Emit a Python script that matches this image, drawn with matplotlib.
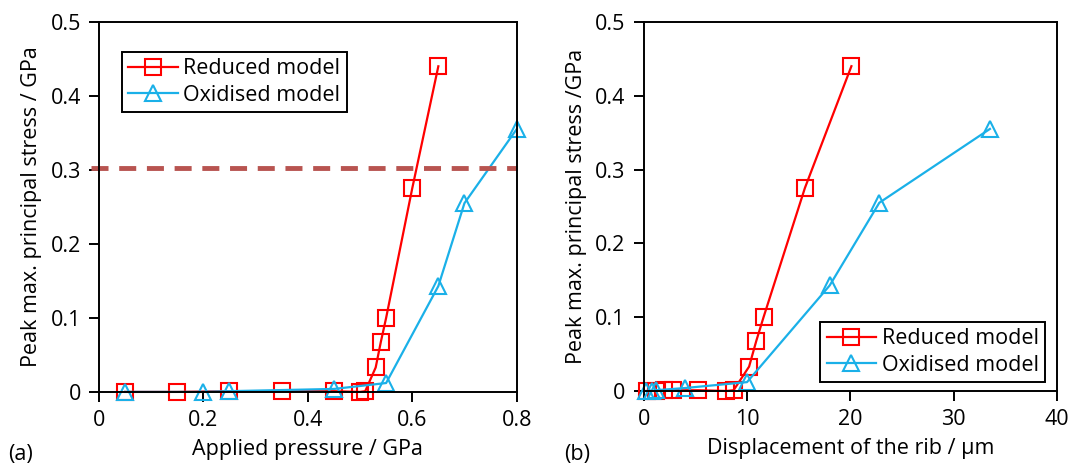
import matplotlib.pyplot as plt

plt.rcParams['font.family'] = ['Open Sans', 'DejaVu Sans']

# (a) stress vs applied pressure
red_p = [0.05, 0.15, 0.25, 0.35, 0.45, 0.50, 0.51, 0.53, 0.54, 0.55, 0.60, 0.65]
red_s = [0.000, 0.000, 0.001, 0.001, 0.001, 0.000, 0.001, 0.033, 0.068, 0.100, 0.275, 0.440]
oxi_p = [0.05, 0.20, 0.25, 0.45, 0.55, 0.65, 0.70, 0.80]
oxi_s = [0.000, 0.000, 0.001, 0.004, 0.012, 0.143, 0.255, 0.355]
threshold = 0.303

# (b) stress vs rib displacement (um)
red_d = [0.3, 1.2, 2.0, 2.8, 5.3, 8.0, 8.7, 10.2, 10.9, 11.6, 15.6, 20.1]
oxi_d = [0.2, 0.8, 1.2, 4.0, 10.0, 18.0, 22.8, 33.5]

RED = '#ff0000'
BLUE = '#1ab0e8'
FS = 15.5

fig = plt.figure(figsize=(10.71, 4.66), dpi=100)
ax1 = fig.add_axes([0.0924, 0.159, 0.390, 0.794])
ax2 = fig.add_axes([0.601, 0.161, 0.386, 0.792])

mk = dict(markersize=11.5, markerfacecolor='none', markeredgewidth=1.5, linewidth=1.6)


def style(ax, xmax, xticks):
    ax.set_xlim(0, xmax)
    ax.set_ylim(0, 0.5)
    ax.set_xticks(xticks)
    ax.set_yticks([0, 0.1, 0.2, 0.3, 0.4, 0.5])
    ax.set_yticklabels(['0', '0.1', '0.2', '0.3', '0.4', '0.5'])
    ax.tick_params(direction='out', length=7, width=1.4, labelsize=FS, colors='black', pad=6)
    for s in ax.spines.values():
        s.set_linewidth(1.4)


def legend(ax, **kw):
    leg = ax.legend(fontsize=FS, frameon=True, fancybox=False, edgecolor='black',
                    framealpha=1, handlelength=2.3, borderpad=0.3, labelspacing=0.25,
                    handletextpad=0.25, borderaxespad=0, **kw)
    leg.get_frame().set_linewidth(1.4)


ax1.plot(red_p, red_s, color=RED, marker='s', label='Reduced model', clip_on=False, **mk)
ax1.plot(oxi_p, oxi_s, color=BLUE, marker='^', label='Oxidised model', clip_on=False, **mk)
ax1.axhline(threshold, color='#b85450', linestyle=(0, (3.5, 2.2)), linewidth=3.5,
            xmin=-0.02, xmax=1.0, clip_on=False)
style(ax1, 0.8, [0, 0.2, 0.4, 0.6, 0.8])
ax1.set_xticklabels(['0', '0.2', '0.4', '0.6', '0.8'])
ax1.set_xlabel('Applied pressure / GPa', fontsize=FS, labelpad=6)
ax1.set_ylabel('Peak max. principal stress / GPa', fontsize=FS, labelpad=6)
legend(ax1, loc='upper left', bbox_to_anchor=(0.055, 0.919))

ax2.plot(red_d, red_s, color=RED, marker='s', label='Reduced model', clip_on=False, **mk)
ax2.plot(oxi_d, oxi_s, color=BLUE, marker='^', label='Oxidised model', clip_on=False, **mk)
style(ax2, 40, [0, 10, 20, 30, 40])
ax2.set_xlabel('Displacement of the rib / μm', fontsize=FS, labelpad=6)
ax2.set_ylabel('Peak max. principal stress /GPa', fontsize=FS, labelpad=6)
legend(ax2, loc='lower right', bbox_to_anchor=(0.971, 0.024))

fig.text(0.008, 0.012, '(a)', fontsize=FS)
fig.text(0.527, 0.012, '(b)', fontsize=FS)

fig.savefig('out.png', dpi=100)
